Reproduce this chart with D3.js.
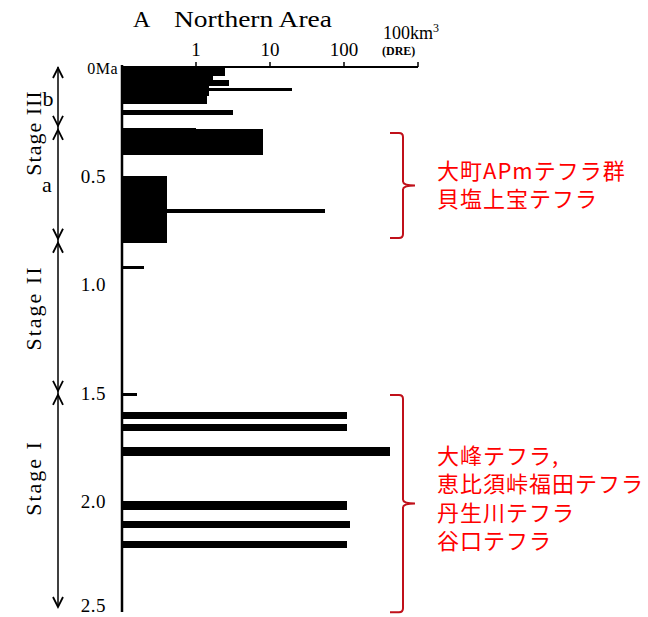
<!DOCTYPE html>
<html><head><meta charset="utf-8">
<script src="https://cdn.jsdelivr.net/npm/d3@7"></script>
<style>body{margin:0;background:#fff}svg{display:block}</style>
</head><body>
<svg id="c" width="648" height="617"></svg>
<script>
// ---- data (ages in Ma, volumes in km3 DRE) ----
const barStart = [0.000, 0.037, 0.060, 0.087, 0.130, 0.097, 0.198, 0.281, 0.290, 0.505, 0.657, 0.918, 1.505, 1.593, 1.645, 1.752, 1.999, 2.093, 2.185];
const barEnd   = [0.037, 0.060, 0.087, 0.130, 0.166, 0.108, 0.220, 0.290, 0.405, 0.810, 0.670, 0.930, 1.511, 1.618, 1.675, 1.787, 2.038, 2.121, 2.211];
const barVol   = [2.5,   1.7,   2.8,   1.5,   1.4,   20,    3.2,   1.0,   8.0,   0.4,   55,    0.2,   0.16,  110,   110,   420,   110,   120,   110];
const ageTicks = [0, 0.5, 1.0, 1.5, 2.0, 2.5];
const ageTickLabels = ["0Ma", "0.5", "1.0", "1.5", "2.0", "2.5"];
const volTicks = [1, 10, 100];
const volTickLabels = ["1", "10", "100"];
const stageBounds = [0, 0.28, 0.80, 1.50, 2.50];
const stageNames = ["Stage III", "Stage II", "Stage I"];
const subStageNames = ["b", "a"];
const group1Range = [0.304, 0.787];
const group1Labels = ["大町APmテフラ群", "貝塩上宝テフラ"];
const group2Range = [1.51, 2.51];
const group2Labels = ["大峰テフラ,", "恵比須峠福田テフラ", "丹生川テフラ", "谷口テフラ"];

const svg = d3.select("#c");
const y = d3.scaleLinear().domain([0, 2.5]).range([67, 610]);
const x = d3.scaleLog().domain([0.1, 1000]).range([122, 418]);
const serif = "'Liberation Serif','Times New Roman',serif";
const cjk = "'Noto Sans CJK JP','Noto Sans CJK SC',sans-serif";

// title
svg.append("text").attr("x", 133).attr("y", 27).attr("font-family", serif).attr("font-size", 24)
  .text("A");
svg.append("text").attr("x", 174).attr("y", 27).attr("font-family", serif).attr("font-size", 24)
  .attr("textLength", 158).attr("lengthAdjust", "spacingAndGlyphs").text("Northern Area");

// bars
const bars = barStart.map((s, i) => ({s, e: barEnd[i], v: barVol[i]}));
svg.append("g").attr("shape-rendering", "crispEdges").selectAll("rect").data(bars).join("rect")
  .attr("x", x(0.1))
  .attr("y", d => Math.floor(y(d.s)))
  .attr("width", d => x(d.v) - x(0.1))
  .attr("height", d => Math.max(2, Math.ceil(y(d.e)) - Math.floor(y(d.s))))
  .attr("fill", "#000");

// top axis
const topAx = svg.append("g");
topAx.append("line").attr("x1", x(0.1)).attr("x2", x(1000)).attr("y1", y(0)).attr("y2", y(0))
  .attr("stroke", "#000").attr("stroke-width", 2);
topAx.selectAll("line.t").data(volTicks.concat([1000])).join("line").attr("class", "t")
  .attr("x1", d => x(d)).attr("x2", d => x(d)).attr("y1", y(0)).attr("y2", y(0) - 5)
  .attr("stroke", "#000").attr("stroke-width", 1.5);
topAx.selectAll("text.t").data(volTicks).join("text").attr("class", "t")
  .attr("x", d => x(d)).attr("y", 56).attr("text-anchor", "middle")
  .attr("font-family", serif).attr("font-size", 19).text((d, i) => volTickLabels[i]);
const unit = topAx.append("text").attr("x", 383).attr("y", 39).attr("font-family", serif).attr("font-size", 18);
unit.append("tspan").text("100km");
unit.append("tspan").attr("dy", -7).attr("font-size", 12).text("3");
topAx.append("text").attr("x", 382).attr("y", 55).attr("font-family", serif).attr("font-size", 12)
  .attr("font-weight", "bold").text("(DRE)");

// left axis
const leftAx = svg.append("g");
leftAx.append("line").attr("x1", x(0.1)).attr("x2", x(0.1)).attr("y1", y(0) - 2).attr("y2", y(2.5) + 2)
  .attr("stroke", "#000").attr("stroke-width", 2.5);
leftAx.selectAll("text").data(ageTicks).join("text")
  .attr("x", (d, i) => i === 0 ? 118 : 106)
  .attr("y", (d, i) => i === ageTicks.length - 1 ? y(d) + 2 : y(d) + 7)
  .attr("text-anchor", "end")
  .attr("font-family", serif)
  .attr("font-size", (d, i) => i === 0 ? 16 : 19)
  .attr("letter-spacing", 0.5)
  .text((d, i) => ageTickLabels[i]);

// stage axis
const sx = 58;
const st = svg.append("g").attr("stroke", "#000").attr("fill", "none");
st.append("line").attr("x1", sx).attr("x2", sx).attr("y1", y(0)).attr("y2", y(2.5) - 3).attr("stroke-width", 1.5);
function arrow(yy, dir) { // dir -1 up, +1 down
  st.append("path").attr("d", `M${sx - 5},${yy - dir * 10} L${sx},${yy} L${sx + 5},${yy - dir * 10}`)
    .attr("stroke-width", 1.8);
}
arrow(y(stageBounds[0]) + 1, -1);
for (let i = 1; i < stageBounds.length - 1; i++) {
  arrow(y(stageBounds[i]) - 2, 1);
  arrow(y(stageBounds[i]) + 2, -1);
}
arrow(y(stageBounds[stageBounds.length - 1]) - 3, 1);

const stageY = [133, 308, 478];
stageNames.forEach((n, i) => {
  svg.append("text").attr("transform", `translate(41,${stageY[i]}) rotate(-90)`)
    .attr("text-anchor", "middle").attr("font-family", serif).attr("font-size", 22)
    .attr("letter-spacing", i === 0 ? 1 : 2).text(n);
});
svg.append("text").attr("x", 48).attr("y", 106).attr("text-anchor", "middle")
  .attr("font-family", serif).attr("font-size", 22).text(subStageNames[0]);
svg.append("text").attr("x", 47).attr("y", 192).attr("text-anchor", "middle")
  .attr("font-family", serif).attr("font-size", 22).text(subStageNames[1]);

// annotations
function bracket(r) {
  const t = y(r[0]), b = y(r[1]), m = (t + b) / 2, bx = 403;
  svg.append("path")
    .attr("d", `M390,${t} H399 Q${bx},${t} ${bx},${t + 4} V${m - 4} Q${bx},${m} 415,${m} Q${bx},${m} ${bx},${m + 4} V${b - 4} Q${bx},${b} 399,${b} H390`)
    .attr("fill", "none").attr("stroke", "#c0101a").attr("stroke-width", 2);
}
bracket(group1Range);
bracket(group2Range);
svg.append("g").selectAll("text").data(group1Labels).join("text")
  .attr("x", 437).attr("y", (d, i) => 179 + i * 27.5)
  .attr("font-family", cjk).attr("font-size", 22).attr("letter-spacing", 1).attr("fill", "#f00").text(d => d);
svg.append("g").selectAll("text").data(group2Labels).join("text")
  .attr("x", 437).attr("y", (d, i) => 464 + i * 28.4)
  .attr("font-family", cjk).attr("font-size", 22).attr("letter-spacing", 1).attr("fill", "#f00").text(d => d);
</script>
</body></html>
